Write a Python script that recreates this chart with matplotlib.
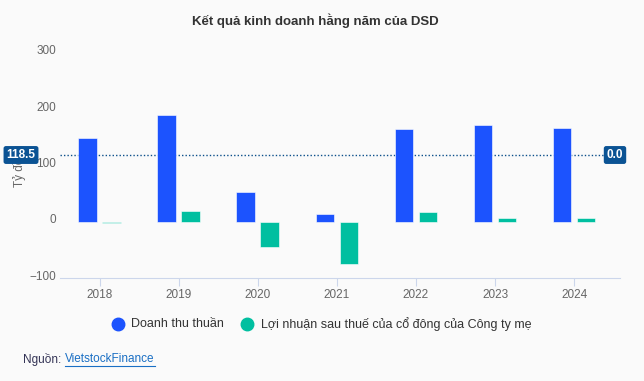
import matplotlib.pyplot as plt
import matplotlib.transforms as mtransforms
import numpy as np

years = ['2018', '2019', '2020', '2021', '2022', '2023', '2024']
revenue = [149, 189, 53, 14, 164, 171, 167]
profit = [-3, 19, -45, -76, 17, 6.5, 6.5]
ref_value = 118.5

plt.rcParams['font.family'] = ['Liberation Sans', 'DejaVu Sans']

bg = '#fafafa'
blue = '#1c53fe'
green = '#00bfa0'
badge = '#0b5394'

fig = plt.figure(figsize=(6.44, 3.81), dpi=100, facecolor=bg)
ax = fig.add_axes([60 / 644, 1 - 278 / 381, 560 / 644, (278 - 52.7) / 381])
ax.set_facecolor(bg)

x = np.arange(len(years))
w = 0.235
off = 0.152
ax.bar(x - off, revenue, w, color=blue, edgecolor='white', linewidth=0.4, zorder=3)
ax.bar(x + off, profit, w, color=green, edgecolor='white', linewidth=0.4, zorder=3)

ax.set_xlim(-0.5, len(years) - 0.5 + 0.08)
ax.set_ylim(-100, 300)
ax.set_yticks([-100, 0, 100, 200, 300])
ax.set_xticks(x)
ax.set_xticklabels(years)

for s in ['top', 'right', 'left']:
    ax.spines[s].set_visible(False)
ax.spines['bottom'].set_color('#ccd6eb')
ax.tick_params(axis='y', length=0, labelsize=8.5, labelcolor='#666666', pad=3)
ax.tick_params(axis='x', length=6, color='#ccd6eb', labelsize=8.5, labelcolor='#666666', pad=2)
shift = mtransforms.ScaledTranslation(0, 3 / 100, fig.dpi_scale_trans)
for lab in ax.get_yticklabels():
    lab.set_transform(lab.get_transform() + shift)

# reference line with badges
ax.axhline(ref_value, color='#0b4f8a', linestyle=(0, (1, 1.5)), linewidth=1, zorder=2)
fig.text(20 / 644, 1 - 166 / 381, 'Tỷ đồng', rotation=90, ha='center', va='center',
         fontsize=8.5, color='#666666')
fig.text(21 / 644, 1 - 155 / 381, '118.5', ha='center', va='center', fontsize=8.5,
         color='white', fontweight='bold',
         bbox=dict(boxstyle='round,pad=0.25,rounding_size=0.2', fc=badge, ec='none'))
fig.text(615 / 644, 1 - 155 / 381, '0.0', ha='center', va='center', fontsize=8.5,
         color='white', fontweight='bold',
         bbox=dict(boxstyle='round,pad=0.25,rounding_size=0.2', fc=badge, ec='none'))

fig.text(315 / 644, 1 - 21 / 381, 'Kết quả kinh doanh hằng năm của DSD', ha='center', va='center',
         fontsize=9.5, fontweight='bold', color='#333333')

# legend
fig.lines.append(plt.Line2D([118 / 644], [1 - 324 / 381], marker='o', markersize=9,
                            color=blue, transform=fig.transFigure, linestyle='none'))
fig.text(131 / 644, 1 - 324 / 381, 'Doanh thu thuần', va='center', fontsize=9, color='#333333')
fig.lines.append(plt.Line2D([247 / 644], [1 - 324 / 381], marker='o', markersize=9,
                            color=green, transform=fig.transFigure, linestyle='none'))
fig.text(261 / 644, 1 - 324 / 381, 'Lợi nhuận sau thuế của cổ đông của Công ty mẹ', va='center',
         fontsize=9, color='#333333')

fig.text(23 / 644, 1 - 359 / 381, 'Nguồn:', va='center', fontsize=8.5, color='#333355')
fig.text(65 / 644, 1 - 359 / 381, 'VietstockFinance', va='center', fontsize=8.5, color='#1a6fc4')
fig.lines.append(plt.Line2D([65 / 644, 155 / 644], [1 - 366 / 381, 1 - 366 / 381],
                            color='#1a6fc4', linewidth=0.8, transform=fig.transFigure))

fig.savefig('out.png', dpi=100, facecolor=bg)
